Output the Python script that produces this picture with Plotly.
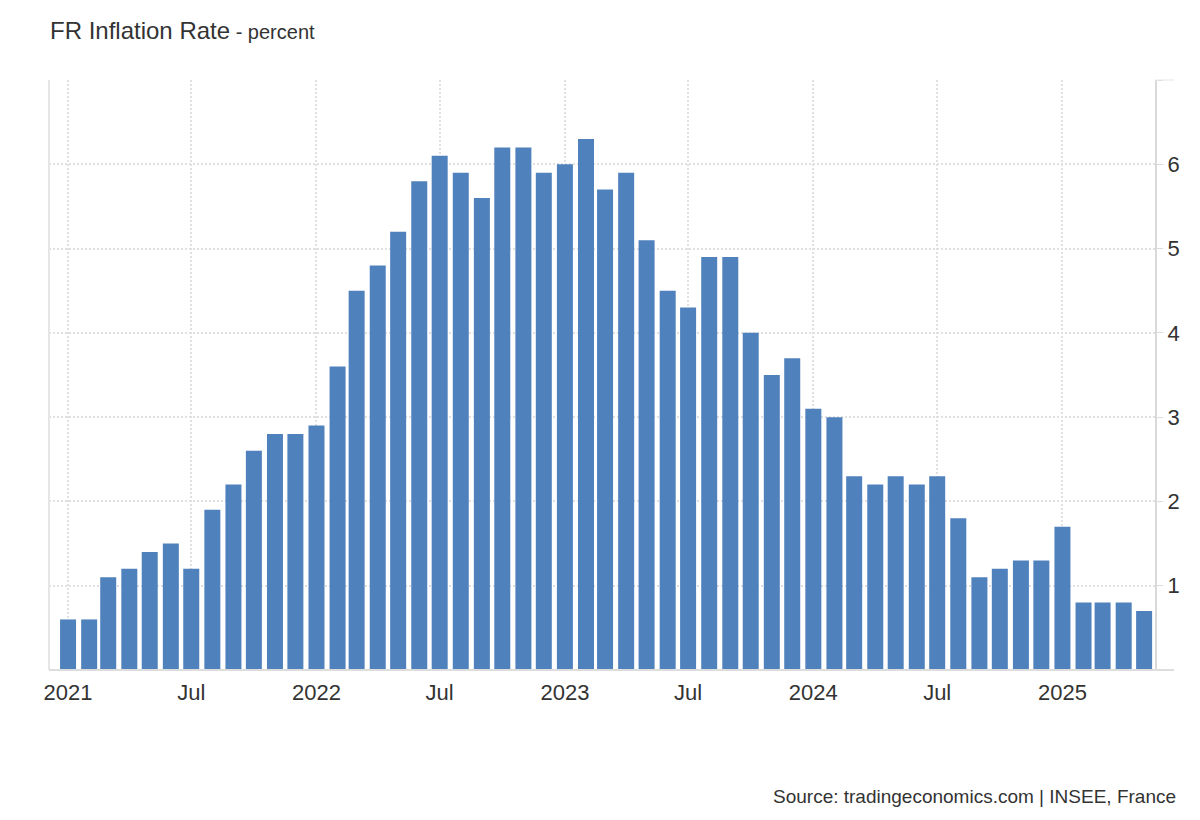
import plotly.graph_objects as go
import pandas as pd

months = pd.date_range("2021-01-01", "2025-05-01", freq="MS").strftime("%Y-%m-%d").tolist()
inflation = [
    0.6, 0.6, 1.1, 1.2, 1.4, 1.5, 1.2, 1.9, 2.2, 2.6, 2.8, 2.8,
    2.9, 3.6, 4.5, 4.8, 5.2, 5.8, 6.1, 5.9, 5.6, 6.2, 6.2, 5.9,
    6.0, 6.3, 5.7, 5.9, 5.1, 4.5, 4.3, 4.9, 4.9, 4.0, 3.5, 3.7,
    3.1, 3.0, 2.3, 2.2, 2.3, 2.2, 2.3, 1.8, 1.1, 1.2, 1.3, 1.3,
    1.7, 0.8, 0.8, 0.8, 0.7,
]
x_tick_vals = ["2021-01-01", "2021-07-01", "2022-01-01", "2022-07-01", "2023-01-01",
               "2023-07-01", "2024-01-01", "2024-07-01", "2025-01-01"]
x_tick_text = ["2021", "Jul", "2022", "Jul", "2023", "Jul", "2024", "Jul", "2025"]
y_tick_vals = [0, 1, 2, 3, 4, 5, 6, 7]
y_tick_text = ["", "1", "2", "3", "4", "5", "6", ""]

FONT = "Liberation Sans, Arial, sans-serif"

fig = go.Figure()
fig.add_trace(go.Bar(
    x=months, y=inflation,
    marker=dict(color="#4f81bd", line=dict(width=0)),
    width=23.5 * 86400000,
    hoverinfo="x+y",
))

fig.update_layout(
    width=1200, height=820,
    margin=dict(l=49, r=45, t=80, b=150),
    paper_bgcolor="white", plot_bgcolor="white",
    showlegend=False,
    font=dict(family=FONT, color="#333333"),
    xaxis=dict(
        type="date",
        range=["2020-12-04", "2025-05-17"],
        tickvals=x_tick_vals, ticktext=x_tick_text,
        tickfont=dict(size=22, color="#333333"),
        showgrid=True, gridcolor="#e0e0e0", griddash="2px,2px", gridwidth=2,
        ticks="outside", ticklen=3, tickcolor="rgba(0,0,0,0)",
        showline=False, zeroline=False,
    ),
    yaxis=dict(
        side="right",
        range=[0, 7],
        tickvals=y_tick_vals, ticktext=y_tick_text,
        tickfont=dict(size=22, color="#333333"),
        showgrid=True, gridcolor="#e0e0e0", griddash="2px,2px", gridwidth=2,
        ticks="outside", ticklen=6, tickcolor="#dddddd",
        showline=True, linecolor="#d9d9d9", linewidth=2,
        zeroline=False,
    ),
    shapes=[
        dict(type="line", xref="paper", yref="paper", x0=0, x1=0, y0=0, y1=1,
             line=dict(color="#e6e6e6", width=2)),
        dict(type="line", xref="paper", yref="paper", x0=0, x1=1.0172, y0=0, y1=0,
             line=dict(color="#dddddd", width=2)),
        dict(type="line", xref="paper", yref="paper", x0=1, x1=1.0172, y0=1, y1=1,
             line=dict(color="#e6e6e6", width=1)),
    ],
    annotations=[
        dict(xref="paper", yref="paper", x=-0.001, y=1.0576, xanchor="left", yanchor="bottom",
             text="FR Inflation Rate<span style='font-size:20px'> - percent</span>",
             showarrow=False, font=dict(size=24, color="#333333", family=FONT)),
        dict(xref="paper", yref="paper", x=1.0208, y=-0.2136, xanchor="right", yanchor="middle",
             text="Source: tradingeconomics.com | INSEE, France",
             showarrow=False, font=dict(size=19, color="#333333", family=FONT)),
    ],
)

fig.write_html("out.html", config={"displayModeBar": False},
               post_script="document.body.style.margin='0';")
